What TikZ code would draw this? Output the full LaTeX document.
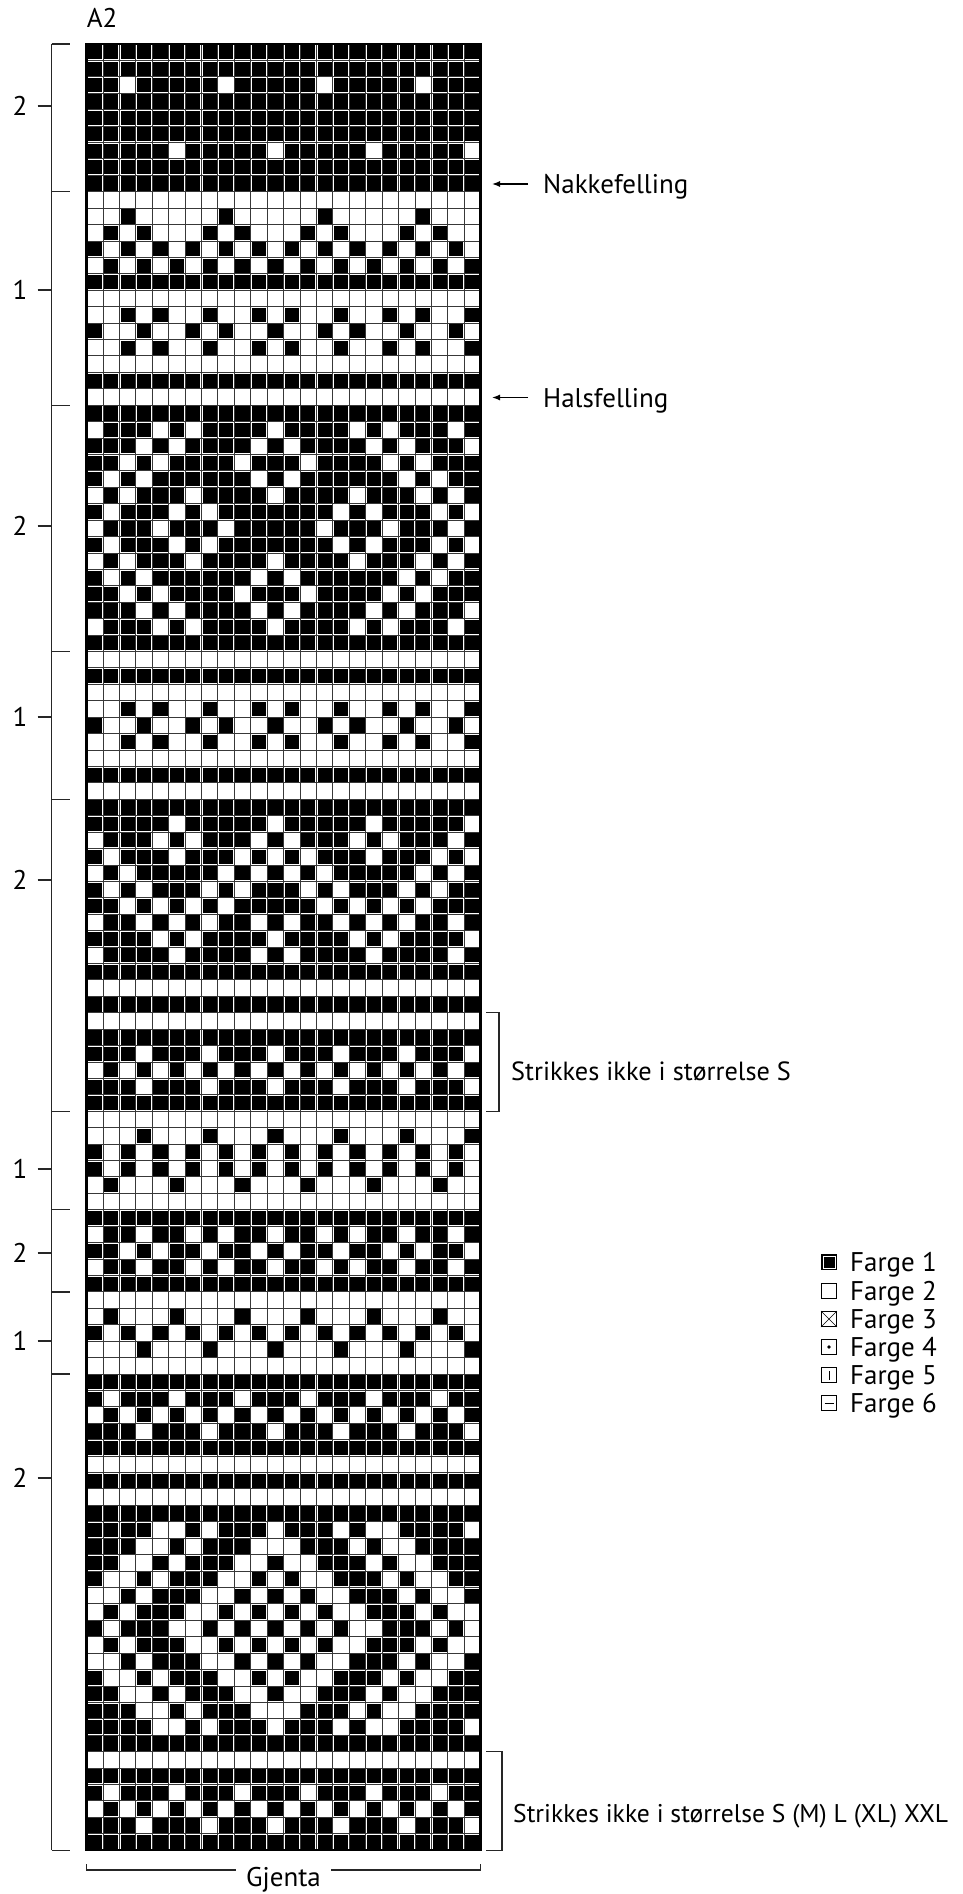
\documentclass[tikz,border=0pt]{standalone}
\usepackage{fontspec}
\setmainfont{PT Sans}
\usetikzlibrary{arrows.meta,positioning}

\newcommand\cellsz{16.42}
\newcommand\gx{86.6}
\newcommand\gy{44}
\newcommand\rowidx{0}
\newcommand\colidx{0}
\def\chartcells#1{%
  \ifx\relax#1\else
    \if1#1\fill[stitch] ({\gx+\colidx*\cellsz+1.1},{\gy+\rowidx*\cellsz+1.1}) rectangle ++({\cellsz-2.2},{\cellsz-2.2});\fi
    \pgfmathtruncatemacro\colidx{\colidx+1}%
    \expandafter\chartcells
  \fi}
\def\chartrows{%
111111111111111111111111,
111111111111111111111111,
110111110111110111110111,
111111111111111111111111,
111111111111111111111111,
111111111111111111111111,
111110111110111110111110,
111111111111111111111111,
111111111111111111111111,
000000000000000000000000,
001000001000001000001000,
010100010100010100010100,
101010101010101010101010,
010101010101010101010101,
111111111111111111111111,
000000000000000000000000,
001010010010100100101001,
100100101001001010010010,
001010010010100100101001,
000000000000000000000000,
111111111111111111111111,
000000000000000000000000,
111111111111111111111111,
011101011110111101011101,
111010111101011110101110,
110101111011101111010111,
101011111101011111101011,
010111011110111101110101,
101110101111111010111010,
011101110111110111011101,
101110101111111010111010,
010111011110111101110101,
101011111101011111101011,
110101111011101111010111,
111010111101011110101110,
011101011110111101011101,
111111111111111111111111,
000000000000000000000000,
111111111111111111111111,
000000000000000000000000,
001010010010100100101001,
100100101001001010010010,
001010010010100100101001,
000000000000000000000000,
111111111111111111111111,
000000000000000000000000,
111111111111111111111111,
111110111110111110111110,
011101011101011101011101,
101110111010101110111010,
010111110101010111110101,
101011101011101011101011,
110101010111110101010111,
011010101101011010101101,
111101011110111101011110,
011110111101011110111101,
111111111111111111111111,
000000000000000000000000,
111111111111111111111111,
000000000000000000000000,
111111111111111111111111,
111011101110111011101110,
010101010101010101010101,
111011101110111011101110,
111111111111111111111111,
000000000000000000000000,
000100010001000100010001,
101010101010101010101010,
101010101010101010101010,
010001000100010001000100,
000000000000000000000000,
111111111111111111111111,
011011010110110101101101,
110101101101011011010110,
011011010110110101101101,
111111111111111111111111,
000000000000000000000000,
010001000100010001000100,
101010101010101010101010,
000100010001000100010001,
000000000000000000000000,
111111111111111111111111,
101110111011101110111011,
010101010101010101010101,
111011101110111011101110,
111111111111111111111111,
000000000000000000000000,
111111111111111111111111,
000000000000000000000000,
111111111111111111111111,
111100101110111010011110,
111001011100011101001111,
110010111001001110100111,
100101110010100111010011,
001011100101010011101001,
010111001010101001110100,
101110010101010100111010,
010111001010101001110100,
001011100101010011101001,
100101110010100111010011,
110010111001001110100111,
111001011100011101001111,
111100101110111010011110,
111111111111111111111111,
000000000000000000000000,
111111111111111111111111,
101110111011101110111011,
010101010101010101010101,
111011101110111011101110,
111111111111111111111111%
}

\begin{document}
\begin{tikzpicture}[
    x=1pt, y=-1pt,
    font=\fontsize{27}{32}\selectfont,
    stitch/.style={fill=black},
    gridline/.style={draw=black!78, line width=1pt},
    frame/.style={draw=black, line width=2.4pt},
    bracketline/.style={draw=black!85, line width=1.3pt},
    lbl/.style={inner sep=0pt, text height=19pt, text depth=0pt},
    note/.style={lbl, font=\fontsize{26.3}{30}\selectfont},
    pointer/.style={-{Latex[length=8pt,width=6pt]}, line width=1.3pt},
    swatch/.style={draw=black, line width=1pt, minimum size=15pt, inner sep=0pt}
]
\useasboundingbox[fill=white] (0,0) rectangle (962,1894);

\foreach \i in {0,...,24}
  \draw[gridline] ({\gx+\i*\cellsz},\gy) -- ++(0,{110*\cellsz});
\foreach \i in {0,...,110}
  \draw[gridline] (\gx,{\gy+\i*\cellsz}) -- ++({24*\cellsz},0);
\foreach \pat [count=\r from 0] in \chartrows {
  \def\rowidx{\r}\def\colidx{0}%
  \expandafter\chartcells\pat\relax
}
\draw[frame] (\gx,\gy) rectangle ++({24*\cellsz},{110*\cellsz});

\node[lbl, anchor=west] (title) at (86.6,18) {A2};

\draw[bracketline] (51.7,\gy) -- (51.7,{\gy+110*\cellsz});
\foreach \r in {0,9,22,37,46,65,71,76,81,110}
  \draw[bracketline] (51.7,{\gy+\r*\cellsz}) -- ++(18,0);
\foreach \n/\ly [count=\k] in {2/106,1/290,2/526,1/717,2/880,1/1169,2/1253,1/1341,2/1478} {
  \node[lbl] (rep\k) at (20,\ly) {\n};
  \coordinate (repin\k) at (51.7,\ly);
  \draw[bracketline] ([xshift=10pt]rep\k.east) -- (repin\k);
}

\node[lbl, anchor=west] (nakke) at (543,184) {Nakkefelling};
\coordinate (nakketip) at (492,184);
\draw[pointer] ([xshift=-15pt]nakke.west) -- (nakketip);
\node[lbl, anchor=west] (hals) at (543,397.5) {Halsfelling};
\coordinate (halstip) at (492,397.5);
\draw[pointer] ([xshift=-15pt]hals.west) -- (halstip);

\coordinate (stop) at (486,1012.8);
\coordinate (sbot) at (486,1111.3);
\draw[bracketline] (stop) -- ++(13,0) |- (sbot);
\node[note, anchor=west] (skips) at (511,1071) {Strikkes ikke i størrelse S};

\coordinate (xtop) at (486,1751.7);
\coordinate (xbot) at (486,1850.2);
\draw[bracketline] (xtop) -- ++(16,0) |- (xbot);
\node[note, anchor=west, font=\fontsize{25.6}{30}\selectfont] (skipxxl) at (513,1813) {Strikkes ikke i størrelse S (M) L (XL) XXL};

\node[lbl] (gjenta) at (283.5,1877) {Gjenta};
\coordinate (gjl) at (86.6,1870);
\coordinate (gjr) at (480.6,1870);
\draw[bracketline] ([yshift=6pt]gjl) -- (gjl) -- ([xshift=-10pt]gjl -| gjenta.west);
\draw[bracketline] ([yshift=6pt]gjr) -- (gjr) -- ([xshift=10pt]gjr -| gjenta.east);

\node[swatch, fill=black] (f1) at (829,1262) {};
\node[swatch] (f2) at (829,1291) {};
\node[swatch] (f3) at (829,1319) {};
\node[swatch] (f4) at (829,1347) {};
\node[swatch] (f5) at (829,1375) {};
\node[swatch] (f6) at (829,1403) {};
\draw[white, line width=0.8pt] ([shift={(2pt,2pt)}]f1.south west) rectangle ([shift={(-2pt,-2pt)}]f1.north east);
\draw (f3.north west) -- (f3.south east) (f3.north east) -- (f3.south west);
\fill (f4) circle (1.8);
\draw[line width=1pt] ([yshift=3.5pt]f5.south) -- ([yshift=-3.5pt]f5.north);
\draw[line width=1pt] ([xshift=3.5pt]f6.west) -- ([xshift=-3.5pt]f6.east);
\foreach \k in {1,...,6}
  \node[lbl, right=13pt of f\k] (f\k txt) {Farge \k};
\end{tikzpicture}
\end{document}
